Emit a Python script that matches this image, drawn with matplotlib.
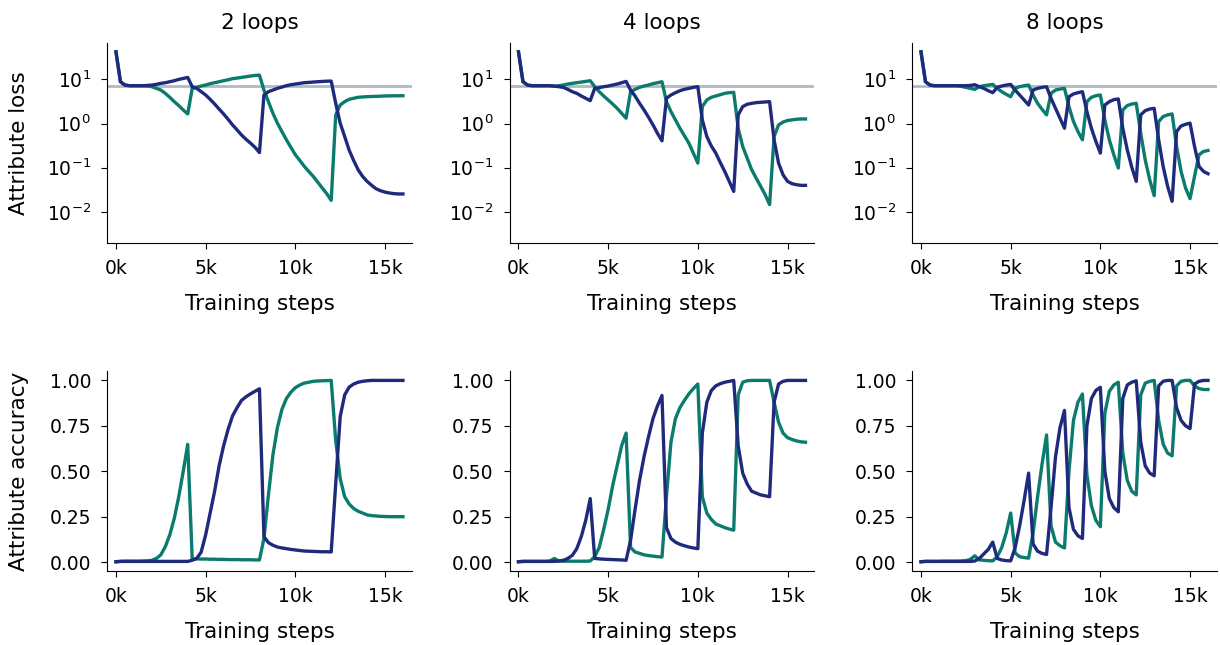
import numpy as np
import matplotlib.pyplot as plt
from matplotlib.ticker import FuncFormatter, NullLocator

# logged every 250 training steps
steps = np.arange(0, 16001, 250)
loop_counts = [2, 4, 8]

NAVY = "#1f2a7c"
TEAL = "#0a7b6c"
CHANCE = np.log(1000)

# ---- attribute loss ----
loss2_teal = [42.2,
              8.86, 7.45, 7.2, 7.2, 7.2, 7.2, 7.08, 6.83,
              6.27, 5.74, 4.83, 3.93, 3.13, 2.55, 2.03, 1.65,
              6.27, 6.6, 7.08, 7.45, 8.0, 8.41, 8.86, 9.33,
              9.8, 10.4, 10.7, 11.1, 11.5, 11.9, 12.3, 12.5,
              5.74, 3.13, 1.71, 1.02, 0.66, 0.43, 0.29, 0.196,
              0.146, 0.107, 0.082, 0.0635, 0.047, 0.0346, 0.0258, 0.0182,
              1.57, 2.63, 3.13, 3.54, 3.73, 3.93, 4.0, 4.06,
              4.1, 4.13, 4.17, 4.21, 4.23, 4.25, 4.26, 4.27]
loss2_navy = [42.2,
              8.86, 7.45, 7.2, 7.2, 7.2, 7.2, 7.3, 7.45,
              7.71, 8.13, 8.41, 8.86, 9.33, 10.0, 10.5, 11.1,
              6.83, 6.27, 5.27, 4.43, 3.54, 2.77, 2.13, 1.65,
              1.25, 0.93, 0.72, 0.55, 0.44, 0.36, 0.29, 0.22,
              4.43, 5.27, 5.74, 6.27, 6.7, 7.2, 7.58, 7.85,
              8.13, 8.41, 8.55, 8.7, 8.86, 9.0, 9.1, 9.17,
              2.87, 1.02, 0.51, 0.25, 0.146, 0.09, 0.0635, 0.049,
              0.040, 0.0334, 0.030, 0.028, 0.0267, 0.0258, 0.0254, 0.0254]

loss4_teal = [42.2,
              8.86, 7.45, 7.2, 7.2, 7.2, 7.2, 7.2, 6.95,
              7.2, 7.45, 7.85, 8.13, 8.41, 8.7, 9.0, 9.33,
              6.83, 5.27, 4.21, 3.42, 2.77, 2.21, 1.71, 1.32,
              5.27, 5.95, 6.6, 7.08, 7.45, 8.0, 8.41, 8.86,
              3.13, 1.86, 1.21, 0.784, 0.53, 0.359, 0.214, 0.127,
              2.42, 3.42, 3.93, 4.21, 4.5, 4.83, 5.0, 5.09,
              0.784, 0.302, 0.165, 0.09, 0.058, 0.038, 0.0245, 0.0146,
              0.508, 0.93, 1.08, 1.17, 1.21, 1.25, 1.27, 1.27]
loss4_navy = [42.2,
              8.86, 7.45, 7.2, 7.2, 7.2, 7.2, 7.2, 7.08,
              6.83, 6.6, 5.95, 5.27, 4.83, 4.21, 3.73, 3.3,
              6.27, 6.49, 6.83, 7.08, 7.45, 7.85, 8.41, 9.0,
              5.74, 4.21, 2.87, 2.03, 1.39, 0.93, 0.6, 0.406,
              3.73, 4.43, 5.0, 5.55, 5.95, 6.27, 6.6, 6.83,
              1.21, 0.51, 0.31, 0.214, 0.131, 0.082, 0.049, 0.029,
              1.57, 2.42, 2.73, 2.87, 2.97, 3.03, 3.08, 3.13,
              0.428, 0.127, 0.069, 0.049, 0.0434, 0.0412, 0.0398, 0.0398]

loss8_teal = [42.2,
              8.86, 7.45, 7.2, 7.2, 7.2, 7.2, 7.2, 7.2,
              6.95, 6.6, 6.27, 5.95, 6.83, 7.2, 7.45, 7.71,
              6.27, 5.27, 4.59, 4.06, 6.27, 6.83, 7.2, 7.45,
              4.43, 2.87, 2.1, 1.57, 4.83, 5.74, 6.05, 6.27,
              2.42, 1.11, 0.659, 0.428, 3.13, 3.93, 4.27, 4.43,
              1.21, 0.428, 0.196, 0.098, 2.03, 2.55, 2.77, 2.87,
              0.604, 0.151, 0.0534, 0.0232, 1.11, 1.44, 1.57, 1.65,
              0.302, 0.0824, 0.0346, 0.0199, 0.0635, 0.196, 0.233, 0.245]
loss8_navy = [42.2,
              8.86, 7.45, 7.2, 7.2, 7.2, 7.2, 7.2, 7.2,
              7.2, 7.2, 7.3, 7.58, 6.83, 6.27, 5.55, 5.0,
              6.6, 7.08, 7.45, 7.71, 5.74, 4.43, 3.42, 2.63,
              5.74, 6.27, 6.6, 6.83, 3.73, 2.21, 1.32, 0.784,
              4.06, 4.67, 5.0, 5.27, 1.86, 0.784, 0.392, 0.214,
              2.63, 3.13, 3.48, 3.6, 0.784, 0.254, 0.103, 0.049,
              1.57, 1.96, 2.13, 2.21, 0.428, 0.107, 0.0378, 0.0173,
              0.659, 0.88, 0.96, 1.02, 0.302, 0.107, 0.0824, 0.073]

# ---- attribute accuracy ----
acc2_teal = [0.002,
             0.004, 0.005, 0.005, 0.005, 0.005, 0.006, 0.007, 0.01,
             0.02, 0.04, 0.085, 0.15, 0.24, 0.36, 0.5, 0.648,
             0.018, 0.018, 0.017, 0.017, 0.016, 0.016, 0.015, 0.015,
             0.014, 0.014, 0.014, 0.013, 0.013, 0.013, 0.012, 0.012,
             0.13, 0.37, 0.59, 0.74, 0.84, 0.90, 0.935, 0.96,
             0.975, 0.985, 0.99, 0.995, 0.997, 0.998, 0.999, 1.0,
             0.67, 0.46, 0.36, 0.32, 0.295, 0.28, 0.27, 0.26,
             0.256, 0.254, 0.252, 0.251, 0.25, 0.25, 0.25, 0.25]
acc2_navy = [0.002,
             0.004, 0.004, 0.004, 0.004, 0.004, 0.004, 0.004, 0.004,
             0.004, 0.004, 0.004, 0.004, 0.004, 0.004, 0.004, 0.004,
             0.01, 0.02, 0.055, 0.15, 0.27, 0.39, 0.53, 0.64,
             0.73, 0.805, 0.85, 0.89, 0.91, 0.926, 0.94, 0.954,
             0.14, 0.107, 0.093, 0.083, 0.078, 0.074, 0.07, 0.067,
             0.064, 0.061, 0.06, 0.059, 0.058, 0.057, 0.057, 0.056,
             0.43, 0.80, 0.92, 0.963, 0.98, 0.99, 0.995, 0.998,
             1.0, 1.0, 1.0, 1.0, 1.0, 1.0, 1.0, 1.0]

acc4_teal = [0.002,
             0.004, 0.004, 0.004, 0.004, 0.004, 0.004, 0.006, 0.02,
             0.006, 0.005, 0.005, 0.005, 0.005, 0.005, 0.005, 0.006,
             0.03, 0.08, 0.18, 0.29, 0.42, 0.53, 0.64, 0.71,
             0.08, 0.056, 0.048, 0.04, 0.036, 0.033, 0.03, 0.028,
             0.36, 0.66, 0.79, 0.85, 0.89, 0.926, 0.955, 0.98,
             0.36, 0.27, 0.235, 0.21, 0.2, 0.19, 0.182, 0.176,
             0.92, 0.99, 0.998, 1.0, 1.0, 1.0, 1.0, 1.0,
             0.88, 0.77, 0.71, 0.685, 0.675, 0.667, 0.662, 0.66]
acc4_navy = [0.002,
             0.004, 0.004, 0.004, 0.004, 0.004, 0.004, 0.004, 0.004,
             0.006, 0.01, 0.02, 0.037, 0.074, 0.14, 0.23, 0.35,
             0.02, 0.018, 0.016, 0.015, 0.014, 0.013, 0.012, 0.01,
             0.12, 0.29, 0.45, 0.58, 0.69, 0.79, 0.86, 0.917,
             0.19, 0.13, 0.11, 0.098, 0.09, 0.083, 0.078, 0.074,
             0.71, 0.88, 0.944, 0.97, 0.982, 0.99, 0.995, 1.0,
             0.64, 0.49, 0.43, 0.39, 0.38, 0.37, 0.365, 0.36,
             0.88, 0.98, 0.995, 1.0, 1.0, 1.0, 1.0, 1.0]

acc8_teal = [0.002,
             0.004, 0.004, 0.004, 0.004, 0.005, 0.005, 0.005, 0.005,
             0.006, 0.008, 0.015, 0.035, 0.012, 0.01, 0.008, 0.007,
             0.03, 0.08, 0.16, 0.27, 0.05, 0.03, 0.025, 0.022,
             0.16, 0.36, 0.54, 0.70, 0.2, 0.11, 0.09, 0.078,
             0.5, 0.78, 0.88, 0.925, 0.48, 0.31, 0.23, 0.195,
             0.82, 0.94, 0.975, 0.99, 0.6, 0.45, 0.39, 0.37,
             0.92, 0.985, 0.995, 1.0, 0.78, 0.65, 0.6, 0.585,
             0.97, 0.995, 1.0, 1.0, 0.97, 0.955, 0.95, 0.95]
acc8_navy = [0.002,
             0.004, 0.004, 0.004, 0.004, 0.004, 0.004, 0.004, 0.004,
             0.004, 0.004, 0.004, 0.006, 0.02, 0.045, 0.07, 0.11,
             0.02, 0.012, 0.008, 0.007, 0.08, 0.2, 0.34, 0.49,
             0.1, 0.06, 0.048, 0.042, 0.3, 0.58, 0.74, 0.835,
             0.3, 0.18, 0.145, 0.13, 0.75, 0.9, 0.945, 0.962,
             0.5, 0.35, 0.3, 0.277, 0.9, 0.975, 0.99, 0.998,
             0.66, 0.53, 0.49, 0.475, 0.97, 0.995, 1.0, 1.0,
             0.85, 0.78, 0.75, 0.735, 0.98, 0.995, 1.0, 1.0]

loss_runs = [(loss2_teal, loss2_navy), (loss4_teal, loss4_navy), (loss8_teal, loss8_navy)]
acc_runs = [(acc2_teal, acc2_navy), (acc4_teal, acc4_navy), (acc8_teal, acc8_navy)]

fig, axes = plt.subplots(2, 3, figsize=(12.2, 6.45), dpi=100)
fig.subplots_adjust(left=0.0877, right=0.9975, top=0.933, bottom=0.115,
                    wspace=0.32, hspace=0.645)

kfmt = FuncFormatter(lambda v, _: f"{v / 1000:.0f}k")

for col, n in enumerate(loop_counts):
    ax = axes[0, col]
    ax.axhline(CHANCE, color="#afbac5", lw=2, zorder=1)
    teal, navy = loss_runs[col]
    ax.plot(steps, teal, color=TEAL, lw=2.4, zorder=2)
    ax.plot(steps, navy, color=NAVY, lw=2.4, zorder=3)
    ax.set_yscale("log")
    ax.set_ylim(0.002, 66)
    ax.set_yticks([1e-2, 1e-1, 1, 10])
    ax.yaxis.set_minor_locator(NullLocator())
    ax.set_title(f"{n} loops", fontsize=15.5, pad=10)

    ax = axes[1, col]
    teal, navy = acc_runs[col]
    ax.plot(steps, teal, color=TEAL, lw=2.4, zorder=2)
    ax.plot(steps, navy, color=NAVY, lw=2.4, zorder=3)
    ax.set_yticks([0, 0.25, 0.5, 0.75, 1.0])
    ax.yaxis.set_major_formatter(FuncFormatter(lambda v, _: f"{v:.2f}"))

for ax in axes.flat:
    ax.set_xlim(-500, 16500)
    ax.set_xticks([0, 5000, 10000, 15000])
    ax.xaxis.set_major_formatter(kfmt)
    ax.spines["top"].set_visible(False)
    ax.spines["right"].set_visible(False)
    ax.tick_params(labelsize=13.5, length=4.5, pad=7)
    ax.set_xlabel("Training steps", fontsize=15.5)
    ax.xaxis.set_label_coords(0.5, -0.255)

axes[0, 0].set_ylabel("Attribute loss", fontsize=15.5)
axes[1, 0].set_ylabel("Attribute accuracy", fontsize=15.5)
for ax in axes[:, 0]:
    ax.yaxis.set_label_coords(-0.255, 0.5)

fig.savefig("out.png", dpi=100)
